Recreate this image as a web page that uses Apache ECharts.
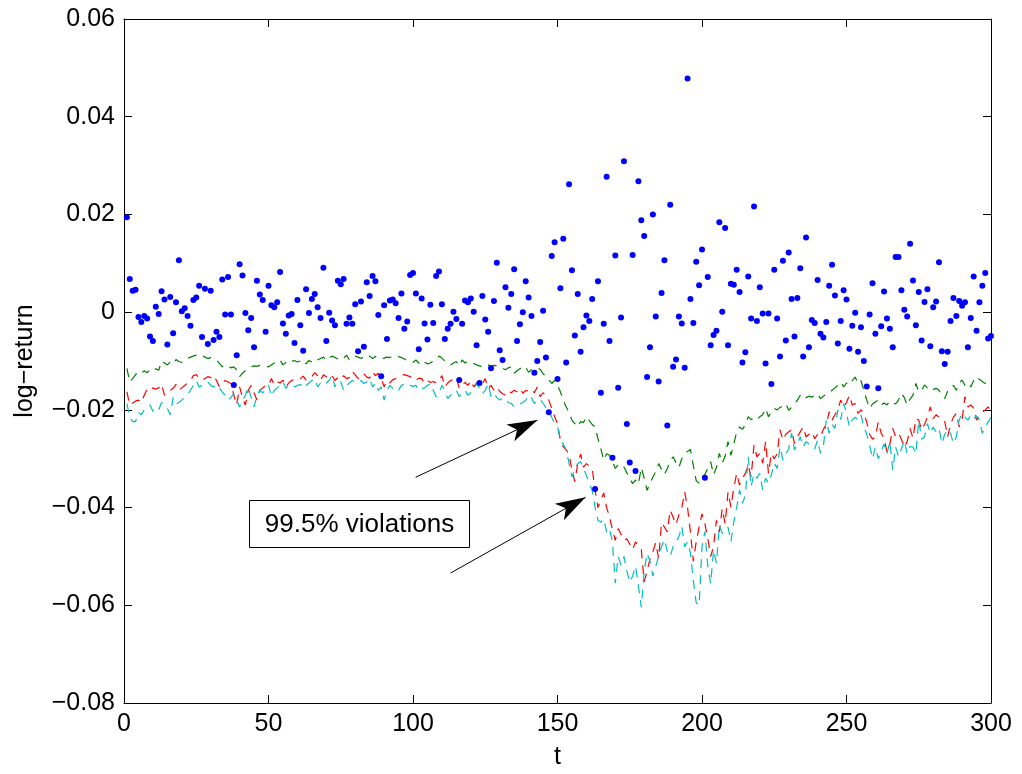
<!DOCTYPE html>
<html>
<head>
<meta charset="utf-8">
<script src="https://cdn.jsdelivr.net/npm/echarts@6/dist/echarts.min.js"></script>
<style>html,body{margin:0;padding:0;background:#fff;}#c{width:1022px;height:774px;}</style>
</head>
<body>
<div id="c"></div>
<script>
// log-returns, t = 1..300
const returns = [
 0.0194, 0.0068, 0.0044, 0.0046,-0.0010,-0.0020,-0.0008,-0.0013,-0.0050,-0.0059,
 0.0011,-0.0004, 0.0043, 0.0026,-0.0066, 0.0031,-0.0043, 0.0020, 0.0106, 0.0002,
 0.0008,-0.0008,-0.0028, 0.0025, 0.0030, 0.0054,-0.0051, 0.0048,-0.0065, 0.0044,
-0.0057,-0.0040,-0.0051, 0.0067,-0.0005, 0.0072,-0.0005,-0.0149,-0.0088, 0.0098,
 0.0075,-0.0002,-0.0037,-0.0012,-0.0072, 0.0064, 0.0036, 0.0025,-0.0040, 0.0054,
 0.0014, 0.0010, 0.0020, 0.0082,-0.0023,-0.0044,-0.0007,-0.0004,-0.0063, 0.0025,
-0.0027,-0.0079, 0.0047,-0.0002, 0.0027, 0.0037, 0.0010,-0.0012, 0.0091,-0.0059,
-0.0001,-0.0017,-0.0027, 0.0064, 0.0057, 0.0068,-0.0024,-0.0011,-0.0024, 0.0016,
-0.0080, 0.0022,-0.0071, 0.0061, 0.0033, 0.0074, 0.0063,-0.0006,-0.0131, 0.0014,
-0.0055, 0.0024, 0.0026, 0.0018,-0.0012, 0.0038,-0.0034,-0.0019, 0.0076, 0.0080,
 0.0038,-0.0076, 0.0028,-0.0023,-0.0056, 0.0015,-0.0022, 0.0074, 0.0083, 0.0016,
-0.0055,-0.0034,-0.0024, 0.0001,-0.0014,-0.0139,-0.0024, 0.0024, 0.0020, 0.0028,
 0.0001,-0.0068,-0.0145, 0.0033,-0.0015,-0.0040,-0.0115, 0.0023, 0.0101,-0.0078,
-0.0098, 0.0051, 0.0009, 0.0037, 0.0088,-0.0059,-0.0025, 0.0000, 0.0063, 0.0030,
-0.0008,-0.0124,-0.0100,-0.0061, 0.0003,-0.0093,-0.0205, 0.0115, 0.0143,-0.0137,
 0.0049, 0.0150,-0.0103, 0.0262, 0.0086,-0.0048, 0.0037,-0.0081,-0.0031,-0.0007,
-0.0018, 0.0027,-0.0362, 0.0063,-0.0165,-0.0024, 0.0277,-0.0059,-0.0298, 0.0116,
-0.0155,-0.0011, 0.0309,-0.0229,-0.0308, 0.0117,-0.0325, 0.0268, 0.0188, 0.0156,
-0.0133,-0.0072, 0.0200,-0.0009,-0.0142, 0.0039, 0.0106,-0.0232, 0.0220,-0.0112,
-0.0097,-0.0009,-0.0023,-0.0114, 0.0478, 0.0027,-0.0022, 0.0103, 0.0055, 0.0128,
-0.0339, 0.0072,-0.0068,-0.0047,-0.0038, 0.0184, 0.0001, 0.0172,-0.0068, 0.0058,
 0.0056, 0.0087, 0.0041,-0.0103,-0.0082, 0.0073,-0.0013, 0.0216,-0.0018, 0.0051,
-0.0003,-0.0105,-0.0003,-0.0147, 0.0087,-0.0013,-0.0091, 0.0105,-0.0058, 0.0122,
 0.0027,-0.0050, 0.0029, 0.0090,-0.0091, 0.0153,-0.0072,-0.0016,-0.0022, 0.0066,
-0.0044,-0.0052,-0.0020, 0.0054, 0.0097, 0.0034,-0.0064,-0.0018, 0.0045, 0.0026,
-0.0075,-0.0028,-0.0001,-0.0081,-0.0031,-0.0100,-0.0152,-0.0005, 0.0059,-0.0044,
-0.0156,-0.0029, 0.0042,-0.0013,-0.0034,-0.0072, 0.0113, 0.0113, 0.0045, 0.0005,
-0.0009, 0.0140, 0.0065,-0.0027, 0.0041,-0.0058, 0.0021, 0.0047,-0.0070, 0.0010,
 0.0022, 0.0102,-0.0080,-0.0106,-0.0081,-0.0018, 0.0029,-0.0008, 0.0023, 0.0013,
 0.0020,-0.0072,-0.0012, 0.0073,-0.0038, 0.0020, 0.0054, 0.0080,-0.0054,-0.0049
];
// VaR lines (green / red / cyan), t = 1..300
const varGreen = [
-0.0115,-0.0143,-0.0136,-0.0128,-0.0122,-0.0125,-0.0120,-0.0124,-0.0118,-0.0121,
-0.0116,-0.0119,-0.0100,-0.0104,-0.0108,-0.0102,-0.0106,-0.0097,-0.0101,-0.0103,
-0.0099,-0.0095,-0.0092,-0.0090,-0.0088,-0.0091,-0.0089,-0.0092,-0.0095,-0.0093,
-0.0096,-0.0098,-0.0105,-0.0112,-0.0108,-0.0110,-0.0114,-0.0112,-0.0118,-0.0132,
-0.0125,-0.0120,-0.0116,-0.0112,-0.0110,-0.0111,-0.0109,-0.0110,-0.0111,-0.0112,
-0.0108,-0.0104,-0.0100,-0.0098,-0.0108,-0.0103,-0.0106,-0.0101,-0.0099,-0.0102,
-0.0100,-0.0097,-0.0106,-0.0099,-0.0102,-0.0104,-0.0098,-0.0095,-0.0092,-0.0099,
-0.0094,-0.0090,-0.0093,-0.0096,-0.0092,-0.0094,-0.0088,-0.0098,-0.0093,-0.0090,
-0.0092,-0.0095,-0.0091,-0.0094,-0.0090,-0.0095,-0.0091,-0.0093,-0.0096,-0.0094,
-0.0092,-0.0093,-0.0090,-0.0092,-0.0091,-0.0093,-0.0096,-0.0099,-0.0101,-0.0103,
-0.0098,-0.0104,-0.0108,-0.0102,-0.0106,-0.0104,-0.0100,-0.0097,-0.0090,-0.0094,
-0.0100,-0.0103,-0.0108,-0.0104,-0.0101,-0.0110,-0.0098,-0.0104,-0.0100,-0.0102,
-0.0105,-0.0108,-0.0110,-0.0112,-0.0110,-0.0108,-0.0111,-0.0109,-0.0110,-0.0113,
-0.0115,-0.0118,-0.0114,-0.0112,-0.0125,-0.0120,-0.0116,-0.0110,-0.0113,-0.0123,
-0.0118,-0.0115,-0.0114,-0.0117,-0.0126,-0.0131,-0.0138,-0.0146,-0.0140,-0.0150,
-0.0163,-0.0180,-0.0194,-0.0205,-0.0221,-0.0228,-0.0235,-0.0224,-0.0226,-0.0214,
-0.0222,-0.0230,-0.0235,-0.0259,-0.0280,-0.0303,-0.0290,-0.0293,-0.0305,-0.0320,
-0.0312,-0.0318,-0.0317,-0.0329,-0.0340,-0.0351,-0.0344,-0.0352,-0.0318,-0.0340,
-0.0365,-0.0350,-0.0338,-0.0326,-0.0310,-0.0322,-0.0332,-0.0320,-0.0305,-0.0296,
-0.0308,-0.0318,-0.0300,-0.0290,-0.0285,-0.0281,-0.0314,-0.0345,-0.0350,-0.0337,
-0.0332,-0.0320,-0.0306,-0.0333,-0.0318,-0.0289,-0.0309,-0.0295,-0.0265,-0.0293,
-0.0270,-0.0245,-0.0235,-0.0240,-0.0230,-0.0214,-0.0220,-0.0216,-0.0220,-0.0214,
-0.0210,-0.0197,-0.0214,-0.0205,-0.0197,-0.0200,-0.0195,-0.0192,-0.0187,-0.0201,
-0.0195,-0.0188,-0.0180,-0.0170,-0.0178,-0.0175,-0.0172,-0.0174,-0.0170,-0.0167,
-0.0177,-0.0172,-0.0168,-0.0165,-0.0160,-0.0155,-0.0150,-0.0143,-0.0153,-0.0145,
-0.0149,-0.0140,-0.0133,-0.0146,-0.0140,-0.0160,-0.0180,-0.0197,-0.0188,-0.0184,
-0.0180,-0.0190,-0.0186,-0.0190,-0.0182,-0.0185,-0.0188,-0.0180,-0.0166,-0.0175,
-0.0190,-0.0178,-0.0170,-0.0146,-0.0163,-0.0160,-0.0149,-0.0155,-0.0152,-0.0158,
-0.0156,-0.0160,-0.0170,-0.0177,-0.0162,-0.0155,-0.0150,-0.0160,-0.0145,-0.0139,
-0.0150,-0.0145,-0.0153,-0.0140,-0.0132,-0.0138,-0.0142,-0.0146,-0.0146,-0.0148
];
const varRed = [
-0.0163,-0.0190,-0.0186,-0.0182,-0.0180,-0.0185,-0.0170,-0.0157,-0.0160,-0.0155,
-0.0158,-0.0155,-0.0147,-0.0170,-0.0165,-0.0160,-0.0156,-0.0148,-0.0160,-0.0155,
-0.0150,-0.0145,-0.0140,-0.0130,-0.0128,-0.0135,-0.0139,-0.0136,-0.0132,-0.0134,
-0.0129,-0.0140,-0.0153,-0.0145,-0.0140,-0.0143,-0.0146,-0.0170,-0.0190,-0.0153,
-0.0175,-0.0190,-0.0160,-0.0150,-0.0165,-0.0180,-0.0160,-0.0155,-0.0150,-0.0150,
-0.0136,-0.0149,-0.0142,-0.0145,-0.0139,-0.0153,-0.0145,-0.0140,-0.0138,-0.0135,
-0.0136,-0.0131,-0.0139,-0.0135,-0.0132,-0.0124,-0.0130,-0.0140,-0.0128,-0.0132,
-0.0135,-0.0130,-0.0140,-0.0134,-0.0138,-0.0130,-0.0136,-0.0134,-0.0122,-0.0128,
-0.0136,-0.0130,-0.0126,-0.0133,-0.0135,-0.0122,-0.0130,-0.0125,-0.0135,-0.0153,
-0.0140,-0.0145,-0.0138,-0.0136,-0.0133,-0.0130,-0.0128,-0.0130,-0.0132,-0.0138,
-0.0140,-0.0135,-0.0136,-0.0146,-0.0140,-0.0144,-0.0142,-0.0145,-0.0140,-0.0130,
-0.0153,-0.0145,-0.0140,-0.0138,-0.0133,-0.0156,-0.0148,-0.0144,-0.0150,-0.0140,
-0.0153,-0.0145,-0.0150,-0.0147,-0.0136,-0.0156,-0.0150,-0.0160,-0.0153,-0.0162,
-0.0167,-0.0170,-0.0162,-0.0165,-0.0160,-0.0163,-0.0156,-0.0166,-0.0160,-0.0162,
-0.0158,-0.0165,-0.0153,-0.0173,-0.0165,-0.0170,-0.0180,-0.0197,-0.0214,-0.0228,
-0.0262,-0.0275,-0.0282,-0.0290,-0.0324,-0.0347,-0.0310,-0.0290,-0.0317,-0.0310,
-0.0315,-0.0320,-0.0365,-0.0400,-0.0385,-0.0370,-0.0400,-0.0419,-0.0445,-0.0467,
-0.0443,-0.0455,-0.0467,-0.0464,-0.0475,-0.0486,-0.0470,-0.0478,-0.0486,-0.0552,
-0.0530,-0.0505,-0.0490,-0.0472,-0.0504,-0.0431,-0.0440,-0.0450,-0.0405,-0.0420,
-0.0435,-0.0415,-0.0400,-0.0368,-0.0400,-0.0450,-0.0510,-0.0470,-0.0440,-0.0413,
-0.0433,-0.0463,-0.0500,-0.0480,-0.0426,-0.0450,-0.0402,-0.0433,-0.0368,-0.0399,
-0.0360,-0.0330,-0.0354,-0.0340,-0.0330,-0.0313,-0.0337,-0.0272,-0.0296,-0.0289,
-0.0309,-0.0265,-0.0330,-0.0289,-0.0300,-0.0290,-0.0241,-0.0262,-0.0250,-0.0245,
-0.0241,-0.0269,-0.0255,-0.0245,-0.0235,-0.0255,-0.0250,-0.0245,-0.0259,-0.0250,
-0.0255,-0.0240,-0.0230,-0.0204,-0.0221,-0.0210,-0.0200,-0.0180,-0.0194,-0.0185,
-0.0170,-0.0190,-0.0187,-0.0207,-0.0200,-0.0207,-0.0225,-0.0250,-0.0260,-0.0255,
-0.0225,-0.0248,-0.0258,-0.0286,-0.0270,-0.0238,-0.0255,-0.0248,-0.0260,-0.0276,
-0.0265,-0.0238,-0.0258,-0.0218,-0.0221,-0.0241,-0.0230,-0.0215,-0.0194,-0.0218,
-0.0210,-0.0215,-0.0220,-0.0224,-0.0255,-0.0230,-0.0215,-0.0207,-0.0235,-0.0220,
-0.0173,-0.0194,-0.0190,-0.0197,-0.0221,-0.0210,-0.0205,-0.0200,-0.0194,-0.0201
];
const varCyan = [
-0.0187,-0.0215,-0.0224,-0.0224,-0.0205,-0.0210,-0.0200,-0.0195,-0.0190,-0.0203,
-0.0196,-0.0200,-0.0185,-0.0190,-0.0197,-0.0210,-0.0175,-0.0188,-0.0185,-0.0180,
-0.0175,-0.0168,-0.0160,-0.0150,-0.0140,-0.0153,-0.0150,-0.0148,-0.0143,-0.0150,
-0.0153,-0.0148,-0.0155,-0.0163,-0.0170,-0.0180,-0.0175,-0.0166,-0.0180,-0.0194,
-0.0180,-0.0170,-0.0153,-0.0175,-0.0194,-0.0170,-0.0160,-0.0165,-0.0160,-0.0149,
-0.0172,-0.0160,-0.0155,-0.0150,-0.0143,-0.0156,-0.0150,-0.0148,-0.0153,-0.0150,
-0.0148,-0.0156,-0.0150,-0.0145,-0.0140,-0.0136,-0.0153,-0.0145,-0.0140,-0.0145,
-0.0140,-0.0129,-0.0153,-0.0140,-0.0143,-0.0160,-0.0150,-0.0145,-0.0140,-0.0142,
-0.0145,-0.0140,-0.0146,-0.0143,-0.0136,-0.0153,-0.0145,-0.0160,-0.0153,-0.0180,
-0.0160,-0.0150,-0.0156,-0.0152,-0.0160,-0.0150,-0.0148,-0.0145,-0.0150,-0.0152,
-0.0150,-0.0160,-0.0156,-0.0155,-0.0150,-0.0146,-0.0160,-0.0173,-0.0165,-0.0150,
-0.0160,-0.0177,-0.0170,-0.0165,-0.0160,-0.0173,-0.0165,-0.0160,-0.0170,-0.0165,
-0.0160,-0.0146,-0.0155,-0.0167,-0.0160,-0.0146,-0.0173,-0.0166,-0.0175,-0.0180,
-0.0175,-0.0180,-0.0185,-0.0187,-0.0194,-0.0190,-0.0188,-0.0185,-0.0180,-0.0170,
-0.0175,-0.0187,-0.0180,-0.0178,-0.0187,-0.0195,-0.0201,-0.0215,-0.0228,-0.0234,
-0.0262,-0.0270,-0.0282,-0.0310,-0.0337,-0.0320,-0.0310,-0.0306,-0.0320,-0.0334,
-0.0350,-0.0365,-0.0399,-0.0426,-0.0430,-0.0423,-0.0450,-0.0443,-0.0470,-0.0555,
-0.0500,-0.0518,-0.0500,-0.0530,-0.0553,-0.0540,-0.0520,-0.0560,-0.0604,-0.0530,
-0.0493,-0.0510,-0.0540,-0.0520,-0.0500,-0.0480,-0.0465,-0.0490,-0.0500,-0.0480,
-0.0470,-0.0460,-0.0438,-0.0480,-0.0470,-0.0493,-0.0550,-0.0595,-0.0600,-0.0480,
-0.0449,-0.0520,-0.0556,-0.0487,-0.0514,-0.0436,-0.0453,-0.0450,-0.0440,-0.0470,
-0.0430,-0.0400,-0.0364,-0.0391,-0.0375,-0.0296,-0.0357,-0.0330,-0.0340,-0.0330,
-0.0364,-0.0340,-0.0350,-0.0333,-0.0309,-0.0320,-0.0276,-0.0303,-0.0290,-0.0280,
-0.0248,-0.0282,-0.0270,-0.0255,-0.0276,-0.0265,-0.0270,-0.0275,-0.0280,-0.0262,
-0.0289,-0.0275,-0.0221,-0.0248,-0.0230,-0.0238,-0.0200,-0.0220,-0.0187,-0.0207,
-0.0235,-0.0220,-0.0215,-0.0221,-0.0210,-0.0235,-0.0250,-0.0272,-0.0300,-0.0276,
-0.0300,-0.0285,-0.0270,-0.0290,-0.0265,-0.0323,-0.0276,-0.0296,-0.0280,-0.0262,
-0.0290,-0.0275,-0.0276,-0.0290,-0.0221,-0.0260,-0.0255,-0.0228,-0.0248,-0.0235,
-0.0245,-0.0238,-0.0269,-0.0250,-0.0240,-0.0248,-0.0269,-0.0255,-0.0220,-0.0207,
-0.0215,-0.0221,-0.0210,-0.0218,-0.0212,-0.0221,-0.0248,-0.0235,-0.0225,-0.0215
];
// annotation: arrows (start -> tip) in data coords, and text
const arrows = [
  [[100.9, -0.0338], [143.1, -0.0221]],
  [[113.0, -0.0534], [159.7, -0.0379]]
];
const noteText = '99.5% violations';

const FONT = 'Liberation Sans, Arial, Helvetica, sans-serif';
const FS = 25;
function pairs(arr) { return arr.map((v, i) => [i + 1, v]); }
function fmtY(v) {
  if (Math.abs(v) < 1e-9) return '0';
  const s = v.toFixed(2);
  return s.replace('-', '\u2212');
}

const chart = echarts.init(document.getElementById('c'), null, { renderer: 'canvas' });
const axisCommon = {
  axisLine: { show: true, onZero: false, lineStyle: { color: '#000', width: 1 } },
  axisTick: { show: true, inside: true, length: 8, lineStyle: { color: '#000', width: 1 } },
  splitLine: { show: false },
  axisLabel: { color: '#000', fontSize: FS, fontFamily: FONT }
};
const lineSeries = (name, data, color) => ({
  name, type: 'line', data: pairs(data), showSymbol: false, symbol: 'none',
  lineStyle: { color, width: 1.2, type: [9, 7] }, animation: false, silent: true, z: 2
});

chart.setOption({
  animation: false,
  backgroundColor: '#fff',
  grid: { left: 124, right: 31, top: 19, bottom: 71, outerBoundsMode: 'none', containLabel: false },
  xAxis: [
    Object.assign({}, axisCommon, {
      type: 'value', position: 'bottom', min: 0, max: 300, interval: 50,
      name: 't', nameLocation: 'middle', nameGap: 42,
      nameTextStyle: { color: '#000', fontSize: FS, fontFamily: FONT },
      axisLabel: Object.assign({}, axisCommon.axisLabel, { margin: 9 })
    }),
    Object.assign({}, axisCommon, {
      type: 'value', position: 'top', min: 0, max: 300, interval: 50,
      axisLabel: { show: false }
    })
  ],
  yAxis: [
    Object.assign({}, axisCommon, {
      type: 'value', position: 'left', min: -0.08, max: 0.06, interval: 0.02,
      name: 'log\u2212return', nameLocation: 'middle', nameGap: 86, nameRotate: 90,
      nameTextStyle: { color: '#000', fontSize: FS, fontFamily: FONT },
      axisLabel: Object.assign({}, axisCommon.axisLabel, { margin: 9, formatter: fmtY })
    }),
    Object.assign({}, axisCommon, {
      type: 'value', position: 'right', min: -0.08, max: 0.06, interval: 0.02,
      axisLabel: { show: false }
    })
  ],
  series: [
    lineSeries('VaR green', varGreen, '#008000'),
    lineSeries('VaR red', varRed, '#ff0000'),
    lineSeries('VaR cyan', varCyan, '#00bfbf'),
    {
      name: 'log-return', type: 'scatter', data: pairs(returns),
      symbol: 'circle', symbolSize: 6, itemStyle: { color: '#0000ff', opacity: 1 },
      animation: false, silent: true, z: 3,
      markLine: {
        silent: true, animation: false,
        symbol: ['none', 'arrow'], symbolSize: [14, 30],
        lineStyle: { color: '#000', width: 1, type: 'solid' },
        itemStyle: { color: '#000' },
        label: { show: false },
        emphasis: { disabled: true },
        data: arrows.map(a => [{ coord: a[0] }, { coord: a[1] }])
      }
    }
  ],
  graphic: [{
    type: 'group', left: 249, top: 500, z: 10,
    children: [
      { type: 'rect', shape: { x: 0, y: 0, width: 220, height: 47 },
        style: { fill: '#fff', stroke: '#000', lineWidth: 1 } },
      { type: 'text', x: 110, y: 24,
        style: { text: noteText, fill: '#000', font: '26px ' + FONT, align: 'center', verticalAlign: 'middle' } }
    ]
  }]
});
</script>
</body>
</html>
